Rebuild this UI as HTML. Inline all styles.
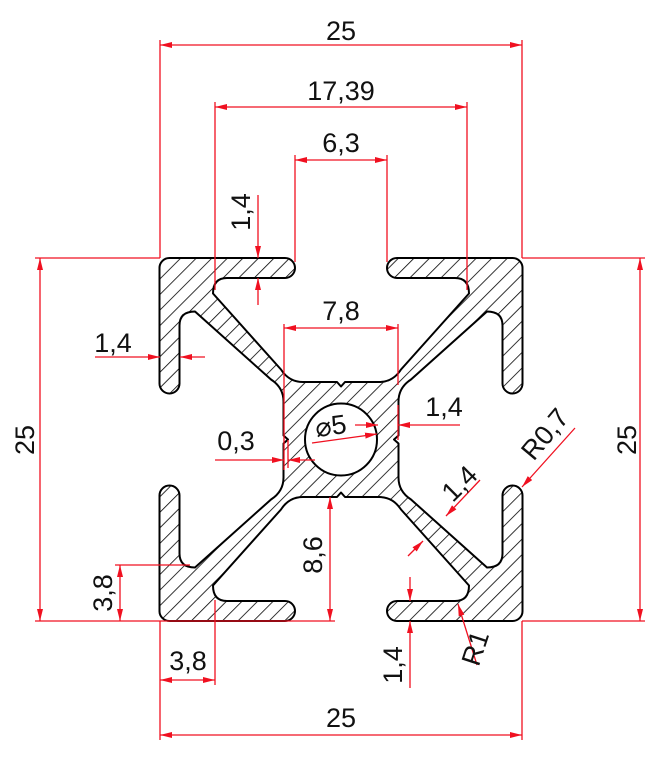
<!DOCTYPE html>
<html><head><meta charset="utf-8"><style>
html,body{margin:0;padding:0;background:#fff;}
svg{display:block;}
text{font-family:"Liberation Sans",sans-serif;font-size:27px;fill:#111;}
</style></head><body>
<svg width="668" height="761" viewBox="0 0 668 761" xmlns="http://www.w3.org/2000/svg">
<defs>
<pattern id="h" patternUnits="userSpaceOnUse" width="11" height="11" patternTransform="rotate(45)">
<line x1="0" y1="0" x2="0" y2="11" stroke="#000" stroke-width="1.6"/>
</pattern>
<marker id="a" viewBox="0 0 12 6" refX="12" refY="3" markerWidth="12" markerHeight="6" markerUnits="userSpaceOnUse" orient="auto-start-reverse">
<path d="M0 0 L12 3 L0 6 Z" fill="#f01020"/>
</marker>
</defs>
<g transform="translate(341,439.5)">
<path fill="url(#h)" fill-rule="evenodd" stroke="#000" stroke-width="2" stroke-linejoin="round" d="
M -171 -181.5 L -56 -181.5 A 10 10 0 0 1 -56 -161.5 L -114 -161.5 Q -128 -161.5 -128 -146 L -60 -70 Q -52 -57.5 -38 -57.5 L -4 -57.5 L 0 -53 L 4 -57.5 L 38 -57.5 Q 52 -57.5 60 -70 L 128 -146 Q 128 -161.5 114 -161.5 L 56 -161.5 A 10 10 0 0 1 56 -181.5 L 171 -181.5 A 10 10 0 0 1 181.5 -171
L 181.5 -56 A 10 10 0 0 1 161.5 -56 L 161.5 -114 Q 161.5 -128 146 -128 L 70 -60 Q 57.5 -52 57.5 -38 L 57.5 -4 L 53 0 L 57.5 4 L 57.5 38 Q 57.5 52 70 60 L 146 128 Q 161.5 128 161.5 114 L 161.5 56 A 10 10 0 0 1 181.5 56 L 181.5 171 A 10 10 0 0 1 171 181.5
L 56 181.5 A 10 10 0 0 1 56 161.5 L 114 161.5 Q 128 161.5 128 146 L 60 70 Q 52 57.5 38 57.5 L 4 57.5 L 0 53 L -4 57.5 L -38 57.5 Q -52 57.5 -60 70 L -128 146 Q -128 161.5 -114 161.5 L -56 161.5 A 10 10 0 0 1 -56 181.5 L -171 181.5 A 10 10 0 0 1 -181.5 171
L -181.5 56 A 10 10 0 0 1 -161.5 56 L -161.5 114 Q -161.5 128 -146 128 L -70 60 Q -57.5 52 -57.5 38 L -57.5 4 L -53 0 L -57.5 -4 L -57.5 -38 Q -57.5 -52 -70 -60 L -146 -128 Q -161.5 -128 -161.5 -114 L -161.5 -56 A 10 10 0 0 1 -181.5 -56 L -181.5 -171 A 10 10 0 0 1 -171 -181.5 Z
M 36 0 A 36 36 0 1 0 -36 0 A 36 36 0 1 0 36 0 Z"/>
</g>
<g stroke="#f01020" stroke-width="1.3" fill="none">
<line x1="160" y1="40" x2="160" y2="258"/><line x1="522" y1="40" x2="522" y2="258"/>
<line x1="160" y1="45" x2="522" y2="45" marker-start="url(#a)" marker-end="url(#a)"/>
<line x1="215" y1="102" x2="215" y2="290"/><line x1="467" y1="102" x2="467" y2="290"/>
<line x1="215" y1="107" x2="467" y2="107" marker-start="url(#a)" marker-end="url(#a)"/>
<line x1="295" y1="155" x2="295" y2="262"/><line x1="387" y1="155" x2="387" y2="262"/>
<line x1="295" y1="160" x2="387" y2="160" marker-start="url(#a)" marker-end="url(#a)"/>
<line x1="258" y1="195" x2="258" y2="258" marker-end="url(#a)"/>
<line x1="258" y1="305" x2="258" y2="278" marker-end="url(#a)"/>
<line x1="95" y1="357" x2="160" y2="357" marker-end="url(#a)"/>
<line x1="205" y1="357" x2="180" y2="357" marker-end="url(#a)"/>
<line x1="284" y1="324" x2="284" y2="470"/><line x1="398" y1="324" x2="398" y2="385"/>
<line x1="284" y1="328" x2="398" y2="328" marker-start="url(#a)" marker-end="url(#a)"/>
<line x1="398" y1="405" x2="398" y2="440"/>
<line x1="355" y1="425" x2="378" y2="425" marker-end="url(#a)"/>
<line x1="460" y1="425" x2="398" y2="425" marker-end="url(#a)"/>
<line x1="312" y1="443" x2="377" y2="434" marker-end="url(#a)"/>
<line x1="288" y1="440" x2="288" y2="468"/>
<line x1="215" y1="460" x2="284" y2="460" marker-end="url(#a)"/>
<line x1="315" y1="460" x2="288" y2="460" marker-end="url(#a)"/>
<line x1="35" y1="258" x2="160" y2="258"/><line x1="35" y1="621" x2="335" y2="621"/>
<line x1="40" y1="258" x2="40" y2="621" marker-start="url(#a)" marker-end="url(#a)"/>
<line x1="522" y1="258" x2="645" y2="258"/><line x1="522" y1="621" x2="645" y2="621"/>
<line x1="640" y1="258" x2="640" y2="621" marker-start="url(#a)" marker-end="url(#a)"/>
<line x1="575" y1="428" x2="522" y2="487" marker-end="url(#a)"/>
<line x1="480" y1="480" x2="446" y2="516" marker-end="url(#a)"/>
<line x1="408" y1="556" x2="423" y2="541" marker-end="url(#a)"/>
<line x1="330" y1="497" x2="330" y2="621" marker-start="url(#a)" marker-end="url(#a)"/>
<line x1="115" y1="565" x2="190" y2="565"/>
<line x1="120" y1="565" x2="120" y2="621" marker-start="url(#a)" marker-end="url(#a)"/>
<line x1="215" y1="600" x2="215" y2="685"/>
<line x1="160" y1="680" x2="215" y2="680" marker-start="url(#a)" marker-end="url(#a)"/>
<line x1="410" y1="577" x2="410" y2="601" marker-end="url(#a)"/>
<line x1="410" y1="688" x2="410" y2="621" marker-end="url(#a)"/>
<line x1="477" y1="665" x2="458" y2="604" marker-end="url(#a)"/>
<line x1="160" y1="621" x2="160" y2="740"/><line x1="522" y1="621" x2="522" y2="740"/>
<line x1="160" y1="735" x2="522" y2="735" marker-start="url(#a)" marker-end="url(#a)"/>
</g>
<g>
<text x="341" y="40" text-anchor="middle">25</text>
<text x="341" y="100" text-anchor="middle">17,39</text>
<text x="341" y="152" text-anchor="middle">6,3</text>
<text transform="translate(250,212) rotate(-90)" text-anchor="middle">1,4</text>
<text x="113" y="352" text-anchor="middle">1,4</text>
<text x="341" y="320" text-anchor="middle">7,8</text>
<text x="444" y="416" text-anchor="middle">1,4</text>
<text transform="translate(332,435) rotate(-8)" text-anchor="middle">⌀5</text>
<text x="236" y="450" text-anchor="middle">0,3</text>
<text transform="translate(34,440) rotate(-90)" text-anchor="middle">25</text>
<text transform="translate(636,440) rotate(-90)" text-anchor="middle">25</text>
<text transform="translate(552,440) rotate(-50)" text-anchor="middle">R0,7</text>
<text transform="translate(466,490) rotate(-45)" text-anchor="middle">1,4</text>
<text transform="translate(322,555) rotate(-90)" text-anchor="middle">8,6</text>
<text transform="translate(112,593) rotate(-90)" text-anchor="middle">3,8</text>
<text x="188" y="670" text-anchor="middle">3,8</text>
<text transform="translate(402,665) rotate(-90)" text-anchor="middle">1,4</text>
<text transform="translate(484,651) rotate(-72)" text-anchor="middle">R1</text>
<text x="341" y="727" text-anchor="middle">25</text>
</g>
</svg>
</body></html>
